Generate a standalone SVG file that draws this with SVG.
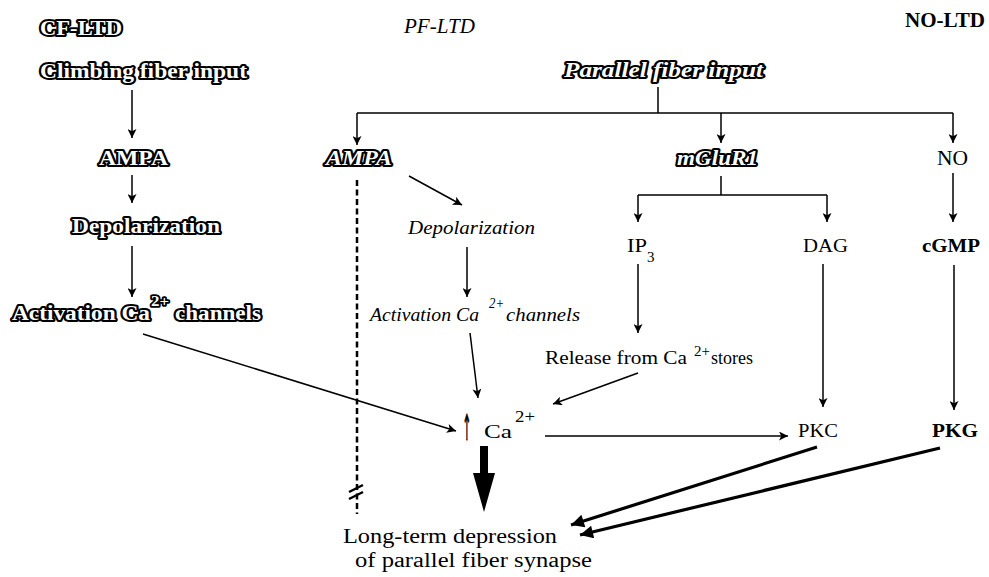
<svg xmlns="http://www.w3.org/2000/svg" width="989" height="577" viewBox="0 0 989 577">
<style>
text{font-family:"Liberation Serif","Times New Roman",serif;fill:#000}
.o{font-weight:bold;fill:#fff;stroke:#000;stroke-width:4;stroke-linejoin:round;paint-order:stroke;font-size:20px}
.oi{font-style:italic}
.it{font-style:italic;font-size:19px}
.n{font-size:19px}
.b{font-weight:bold;font-size:19px}
.sup{font-size:14px}
.c{fill:none;stroke:#000;stroke-width:1.5}
.a{marker-end:url(#ah)}
.t{stroke-width:3.2;marker-end:url(#bh)}
</style>
<defs>
<marker id="ah" viewBox="0 0 10 10" refX="10" refY="5" markerWidth="11" markerHeight="9" markerUnits="userSpaceOnUse" orient="auto"><path d="M0,0 L10,5 L0,10 L2.5,5 z" fill="#000"/></marker>
<marker id="bh" viewBox="0 0 10 10" refX="10" refY="5" markerWidth="20" markerHeight="13" markerUnits="userSpaceOnUse" orient="auto"><path d="M0,0 L10,5 L0,10 z" fill="#000"/></marker>
</defs>

<g id="titles">
<text class="o" x="40" y="35" textLength="82" lengthAdjust="spacingAndGlyphs">CF-LTD</text>
<text class="it" x="404" y="33" textLength="71" lengthAdjust="spacingAndGlyphs" style="font-size:21px">PF-LTD</text>
<text class="b" x="905" y="27" textLength="80" lengthAdjust="spacingAndGlyphs" style="font-size:22px">NO-LTD</text>
</g>

<g id="cf-input"><text class="o" x="40" y="78" textLength="207" lengthAdjust="spacingAndGlyphs">Climbing fiber input</text></g>
<g id="cf-ampa"><text class="o" x="99" y="165" textLength="69" lengthAdjust="spacingAndGlyphs">AMPA</text></g>
<g id="cf-depol"><text class="o" x="72" y="233" textLength="148" lengthAdjust="spacingAndGlyphs">Depolarization</text></g>
<g id="cf-activation">
<text class="o" x="12" y="320" textLength="138" lengthAdjust="spacingAndGlyphs">Activation Ca</text>
<text class="o" x="151" y="306" style="font-size:15px;stroke-width:3.5" textLength="18" lengthAdjust="spacingAndGlyphs">2+</text>
<text class="o" x="175" y="320" textLength="86" lengthAdjust="spacingAndGlyphs">channels</text>
</g>

<g id="pf-input"><text class="o oi" x="564" y="77" textLength="199" lengthAdjust="spacingAndGlyphs">Parallel fiber input</text></g>
<g id="pf-ampa"><text class="o oi" x="326" y="165" textLength="66" lengthAdjust="spacingAndGlyphs">AMPA</text></g>
<g id="mglur1"><text class="o oi" x="677" y="165" textLength="81" lengthAdjust="spacingAndGlyphs">mGluR1</text></g>
<g id="no"><text class="n" x="937" y="165" textLength="31" lengthAdjust="spacingAndGlyphs" style="font-size:20px">NO</text></g>

<g id="pf-depol"><text class="it" x="408" y="234" textLength="127" lengthAdjust="spacingAndGlyphs">Depolarization</text></g>
<g id="pf-activation">
<text class="it" x="370" y="321" textLength="109" lengthAdjust="spacingAndGlyphs">Activation Ca</text>
<text class="it sup" x="489" y="308" style="font-size:14px;font-style:italic" textLength="15" lengthAdjust="spacingAndGlyphs">2+</text>
<text class="it" x="506" y="321" textLength="74" lengthAdjust="spacingAndGlyphs">channels</text>
</g>

<g id="ip3">
<text class="n" x="627" y="252" textLength="20" lengthAdjust="spacingAndGlyphs">IP</text>
<text x="647" y="262" style="font-size:15px">3</text>
</g>
<g id="dag"><text class="n" x="803" y="252" textLength="45" lengthAdjust="spacingAndGlyphs">DAG</text></g>
<g id="cgmp"><text class="b" x="922" y="252" textLength="58" lengthAdjust="spacingAndGlyphs">cGMP</text></g>

<g id="release">
<text class="n" x="545" y="364" textLength="142" lengthAdjust="spacingAndGlyphs">Release from Ca</text>
<text class="sup" x="694" y="356" textLength="16" lengthAdjust="spacingAndGlyphs">2+</text>
<text class="n" x="711" y="364" textLength="42" lengthAdjust="spacingAndGlyphs">stores</text>
</g>

<g id="ca">
<text transform="translate(467,440) scale(0.5,1.7)" text-anchor="middle" style="font-size:21px;font-family:'DejaVu Sans',sans-serif;stroke:#000;stroke-width:0.5">↑</text>
<text class="n" x="484" y="438" textLength="28" lengthAdjust="spacingAndGlyphs">Ca</text>
<text x="515" y="422" style="font-size:16px" textLength="20" lengthAdjust="spacingAndGlyphs">2+</text>
</g>

<g id="pkc"><text class="n" x="798" y="437" textLength="40" lengthAdjust="spacingAndGlyphs">PKC</text></g>
<g id="pkg"><text class="b" x="932" y="437" textLength="46" lengthAdjust="spacingAndGlyphs">PKG</text></g>

<g id="ltd">
<text class="n" x="343" y="543" style="font-size:20px" textLength="214" lengthAdjust="spacingAndGlyphs">Long-term depression</text>
<text class="n" x="355" y="567" style="font-size:20px" textLength="237" lengthAdjust="spacingAndGlyphs">of parallel fiber synapse</text>
</g>

<g id="connectors">
<path class="c a" d="M132,90 V138"/>
<path class="c a" d="M132,175 V203"/>
<path class="c a" d="M132,246 V297"/>
<path class="c a" d="M143,334 L456,431"/>

<path class="c" d="M658,87 V113 M357,113 H953"/>
<path class="c a" d="M357,113 V145"/>
<path class="c a" d="M721,113 V143"/>
<path class="c a" d="M953,113 V143"/>

<path class="c" d="M357,180 V514" stroke-dasharray="6,3.5" style="stroke-width:2.5"/>
<path class="c" d="M349,492 L363,485 M349,499 L363,492" style="stroke-width:2.5"/>

<path class="c a" d="M409,176 L462,205"/>
<path class="c a" d="M467,247 V297"/>
<path class="c a" d="M470,333 L478,398"/>

<path class="c" d="M721,176 V195 M638,195 H827"/>
<path class="c a" d="M638,195 V222"/>
<path class="c a" d="M827,195 V222"/>
<path class="c a" d="M953,173 V222"/>
<path class="c a" d="M638,264 V333"/>
<path class="c a" d="M638,373 L553,404"/>
<path class="c a" d="M823,264 V407"/>
<path class="c a" d="M954,265 V410"/>
<path class="c a" d="M545,436 H788"/>

<path class="c t" d="M817,447 L571,525"/>
<path class="c t" d="M940,448 L580,535"/>

<path d="M480,446 H488 V473 H495 L484,512 L473,473 H480 Z" fill="#000"/>
</g>
</svg>
